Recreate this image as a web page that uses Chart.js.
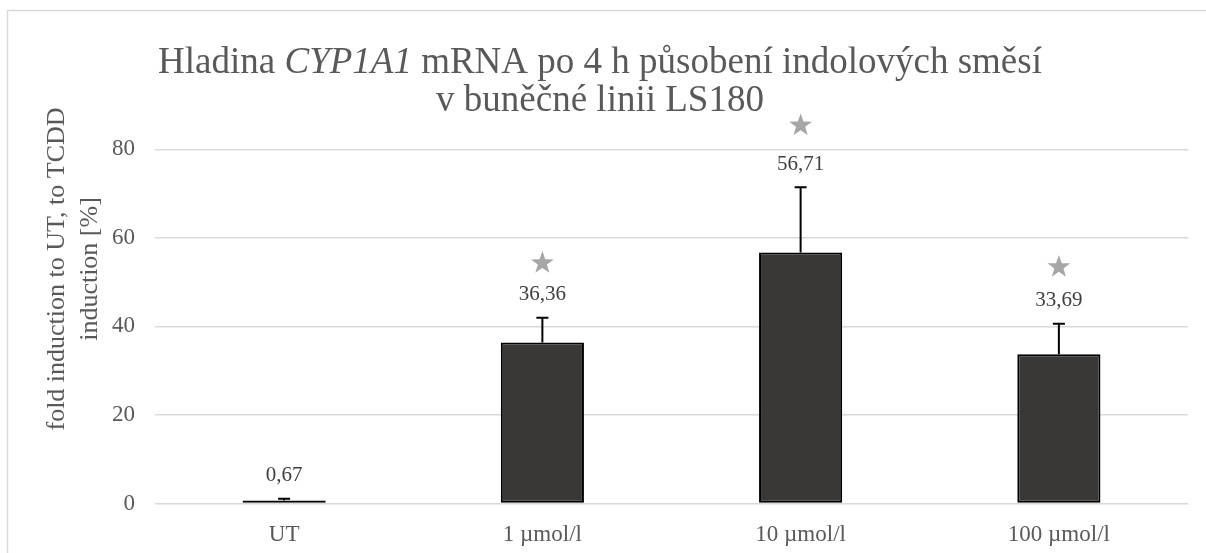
<!DOCTYPE html>
<html>
<head>
<meta charset="utf-8">
<script src="https://cdn.jsdelivr.net/npm/chart.js@4.4.1/dist/chart.umd.min.js"></script>
<style>
    body { margin: 0; background: #fff; overflow: hidden; }
    #wrap { position: relative; width: 1206px; height: 553px; }
</style>
</head>
<body>
<div id="wrap"><canvas id="chart"></canvas></div>
<script>
const categories = ['UT', '1 µmol/l', '10 µmol/l', '100 µmol/l'];
const means = [0.67, 36.36, 56.71, 33.69];
const sd = [0.4, 5.6, 14.7, 6.9];
const stars = [null, 54.3, 85.4, 53.4];
const yTicks = [0, 20, 40, 60, 80];

const SERIF = '"Liberation Serif", "Times New Roman", serif';
const TEXT = '#595959';

// frame, title and axis title
const decorations = {
    id: 'decorations',
    beforeDraw(chart) {
        const ctx = chart.ctx;
        ctx.save();
        ctx.strokeStyle = '#d9d9d9';
        ctx.lineWidth = 1.5;
        ctx.strokeRect(7.5, 10.5, 1400, 800);

        // title with italic gene name
        const parts = [
            { t: 'Hladina ', f: '37px ' + SERIF },
            { t: 'CYP1A1', f: 'italic 37px ' + SERIF },
            { t: ' mRNA po 4 h působení indolových směsí', f: '37px ' + SERIF }
        ];
        ctx.fillStyle = TEXT;
        ctx.textBaseline = 'middle';
        let total = 0;
        parts.forEach(p => { ctx.font = p.f; p.w = ctx.measureText(p.t).width; total += p.w; });
        let x = 600 - total / 2;
        ctx.textAlign = 'left';
        parts.forEach(p => { ctx.font = p.f; ctx.fillText(p.t, x, 63); x += p.w; });
        ctx.font = '37px ' + SERIF;
        ctx.textAlign = 'center';
        ctx.fillText('v buněčné linii LS180', 600, 101);

        // y axis title, two lines
        ctx.translate(0, 269);
        ctx.rotate(-Math.PI / 2);
        ctx.font = '26px ' + SERIF;
        ctx.fillText('fold induction to UT, to TCDD', 0, 57);
        ctx.fillText('induction [%]', 0, 90);
        ctx.restore();
    }
};

function drawStar(ctx, cx, cy, r) {
    ctx.beginPath();
    for (let k = 0; k < 10; k++) {
        const rad = k % 2 === 0 ? r : r * 0.4;
        const a = -Math.PI / 2 + k * Math.PI / 5;
        ctx.lineTo(cx + rad * Math.cos(a), cy + rad * Math.sin(a));
    }
    ctx.closePath();
    ctx.fill();
}

// error bars, value labels and significance stars
const extras = {
    id: 'extras',
    afterDatasetsDraw(chart) {
        const ctx = chart.ctx;
        const y = chart.scales.y;
        const meta = chart.getDatasetMeta(0);
        ctx.save();
        meta.data.forEach((bar, i) => {
            const x = bar.x;
            const yBar = y.getPixelForValue(means[i]);
            const yTop = y.getPixelForValue(means[i] + sd[i]);
            ctx.strokeStyle = '#000';
            ctx.lineWidth = 2;
            ctx.beginPath();
            ctx.moveTo(x, yBar);
            ctx.lineTo(x, yTop);
            ctx.moveTo(x - 6, yTop);
            ctx.lineTo(x + 6, yTop);
            ctx.stroke();

            ctx.fillStyle = '#404040';
            ctx.font = '21px ' + SERIF;
            ctx.textAlign = 'center';
            ctx.textBaseline = 'middle';
            ctx.fillText(means[i].toFixed(2).replace('.', ','), x, yTop - 23);

            if (stars[i] !== null) {
                ctx.fillStyle = '#a6a6a6';
                drawStar(ctx, x, y.getPixelForValue(stars[i]), 12);
            }
        });
        ctx.restore();
    }
};

new Chart(document.getElementById('chart'), {
    type: 'bar',
    data: {
        labels: categories,
        datasets: [{
            data: means,
            backgroundColor: '#3a3836',
            borderColor: '#000',
            borderWidth: 2,
            borderSkipped: false,
            categoryPercentage: 1,
            barPercentage: 0.322
        }]
    },
    options: {
        responsive: true,
        maintainAspectRatio: false,
        animation: false,
        layout: { padding: { top: 149.3, right: 18, left: 0, bottom: 0 } },
        plugins: {
            legend: { display: false },
            tooltip: { enabled: false }
        },
        scales: {
            x: {
                grid: { display: false },
                border: { display: false },
                ticks: { color: TEXT, font: { family: SERIF, size: 23 }, padding: 10 },
                afterFit(scale) { scale.height = 49.5; }
            },
            y: {
                min: 0,
                max: 80,
                afterBuildTicks(scale) { scale.ticks = yTicks.map(v => ({ value: v })); },
                grid: { color: '#d9d9d9', lineWidth: 1.5, drawTicks: false },
                border: { display: false },
                ticks: { color: TEXT, font: { family: SERIF, size: 23 }, padding: 20 },
                afterFit(scale) { scale.width = 155; }
            }
        }
    },
    plugins: [decorations, extras]
});
</script>
</body>
</html>
